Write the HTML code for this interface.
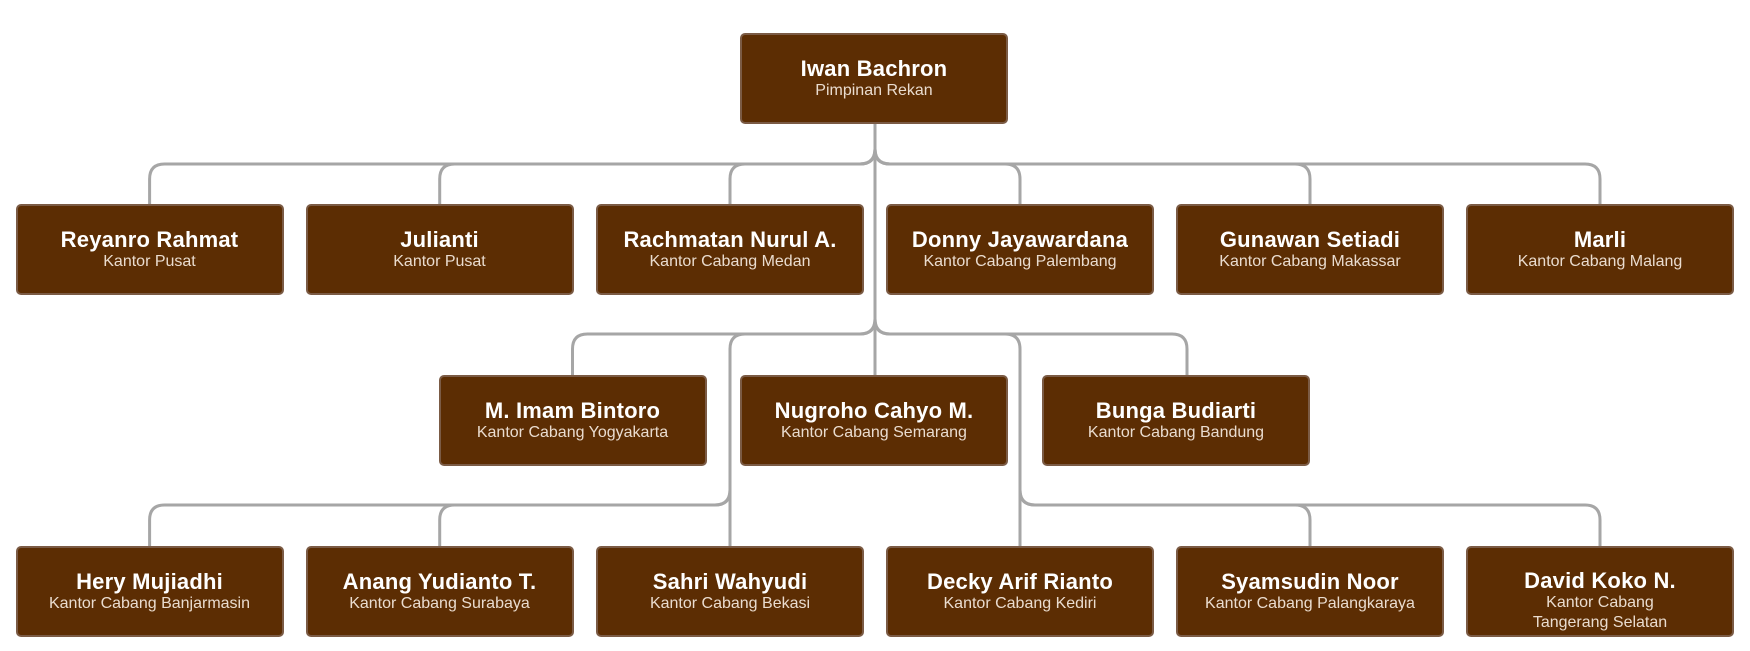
<!DOCTYPE html>
<html><head><meta charset="utf-8"><style>
html,body{margin:0;padding:0;background:#fff;}
body{width:1750px;height:651px;position:relative;overflow:hidden;font-family:"Liberation Sans",sans-serif;}
svg{position:absolute;left:0;top:0;}
.b{position:absolute;width:264px;height:87px;background:#5c2d03;border:2px solid #7b5b45;border-radius:5px;color:#fff;display:flex;flex-direction:column;justify-content:center;align-items:center;text-align:center;}
.n{font-size:22px;font-weight:bold;line-height:25px;letter-spacing:0.2px;}
.s{font-size:16px;line-height:20px;color:#eadccf;}
</style></head><body>
<svg width="1750" height="651" fill="none" stroke="#a6a6a6" stroke-width="3">
<path d="M875,123 V149 Q875,164 860,164 H164.6 Q149.6,164 149.6,179 V204"/>
<path d="M875,123 V149 Q875,164 860,164 H454.7 Q439.7,164 439.7,179 V204"/>
<path d="M875,123 V149 Q875,164 860,164 H745 Q730,164 730,179 V204"/>
<path d="M875,123 V149 Q875,164 890,164 H1005 Q1020,164 1020,179 V204"/>
<path d="M875,123 V149 Q875,164 890,164 H1295 Q1310,164 1310,179 V204"/>
<path d="M875,123 V149 Q875,164 890,164 H1585 Q1600,164 1600,179 V204"/>
<path d="M875,123 V375"/>
<path d="M875,123 V319 Q875,334 860,334 H587.5 Q572.5,334 572.5,349 V375"/>
<path d="M875,123 V319 Q875,334 890,334 H1172 Q1187,334 1187,349 V375"/>
<path d="M875,123 V319 Q875,334 860,334 H745 Q730,334 730,349 V547"/>
<path d="M730,349 V490 Q730,505 715,505 H164.6 Q149.6,505 149.6,520 V547"/>
<path d="M730,349 V490 Q730,505 715,505 H454.7 Q439.7,505 439.7,520 V547"/>
<path d="M875,123 V319 Q875,334 890,334 H1005 Q1020,334 1020,349 V547"/>
<path d="M1020,349 V490 Q1020,505 1035,505 H1295 Q1310,505 1310,520 V547"/>
<path d="M1020,349 V490 Q1020,505 1035,505 H1585 Q1600,505 1600,520 V547"/>
</svg>
<div class="b" style="left:740px;top:33px"><div class="n">Iwan Bachron</div><div class="s">Pimpinan Rekan</div></div>

<div class="b" style="left:15.5px;top:204px"><div class="n">Reyanro Rahmat</div><div class="s">Kantor Pusat</div></div>
<div class="b" style="left:305.5px;top:204px"><div class="n">Julianti</div><div class="s">Kantor Pusat</div></div>
<div class="b" style="left:596px;top:204px"><div class="n">Rachmatan Nurul A.</div><div class="s">Kantor Cabang Medan</div></div>
<div class="b" style="left:886px;top:204px"><div class="n">Donny Jayawardana</div><div class="s">Kantor Cabang Palembang</div></div>
<div class="b" style="left:1176px;top:204px"><div class="n">Gunawan Setiadi</div><div class="s">Kantor Cabang Makassar</div></div>
<div class="b" style="left:1466px;top:204px"><div class="n">Marli</div><div class="s">Kantor Cabang Malang</div></div>

<div class="b" style="left:438.5px;top:375px"><div class="n">M. Imam Bintoro</div><div class="s">Kantor Cabang Yogyakarta</div></div>
<div class="b" style="left:740px;top:375px"><div class="n">Nugroho Cahyo M.</div><div class="s">Kantor Cabang Semarang</div></div>
<div class="b" style="left:1042px;top:375px"><div class="n">Bunga Budiarti</div><div class="s">Kantor Cabang Bandung</div></div>

<div class="b" style="left:15.5px;top:546px"><div class="n">Hery Mujiadhi</div><div class="s">Kantor Cabang Banjarmasin</div></div>
<div class="b" style="left:305.5px;top:546px"><div class="n">Anang Yudianto T.</div><div class="s">Kantor Cabang Surabaya</div></div>
<div class="b" style="left:596px;top:546px"><div class="n">Sahri Wahyudi</div><div class="s">Kantor Cabang Bekasi</div></div>
<div class="b" style="left:886px;top:546px"><div class="n">Decky Arif Rianto</div><div class="s">Kantor Cabang Kediri</div></div>
<div class="b" style="left:1176px;top:546px"><div class="n">Syamsudin Noor</div><div class="s">Kantor Cabang Palangkaraya</div></div>
<div class="b" style="left:1466px;top:546px;justify-content:flex-start;padding-top:0"><div class="n" style="margin-top:20px">David Koko N.</div><div class="s">Kantor Cabang</div><div class="s">Tangerang Selatan</div></div>
</body></html>
